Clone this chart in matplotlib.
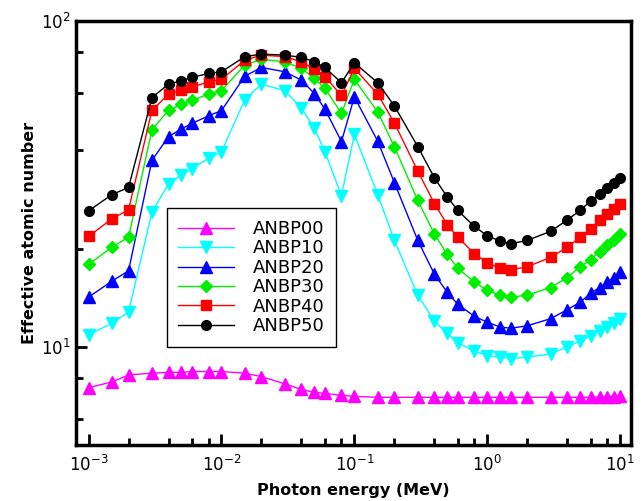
import matplotlib
matplotlib.use("Agg")
import matplotlib.pyplot as plt
from matplotlib.ticker import LogLocator, NullFormatter

plt.rcParams['font.family'] = ['DejaVu Sans']
plt.rcParams['mathtext.fontset'] = 'dejavusans'

# photon energies (MeV)
energy = [0.001, 0.0015, 0.002, 0.003, 0.004, 0.005, 0.006, 0.008, 0.01,
          0.015, 0.02, 0.03, 0.04, 0.05, 0.06, 0.08, 0.1, 0.15, 0.2, 0.3,
          0.4, 0.5, 0.6, 0.8, 1, 1.25, 1.5, 2, 3, 4, 5, 6, 7, 8, 9, 10]

# effective atomic number
anbp00 = [7.5, 7.8, 8.2, 8.3, 8.35, 8.35, 8.4, 8.4, 8.4,
          8.3, 8.1, 7.7, 7.4, 7.25, 7.2, 7.1, 7.05, 7.0, 7.0, 7.0,
          7.0, 7.0, 7.0, 7.0, 7.0, 7.0, 7.0, 7.0, 7.0, 7.0, 7.0, 7.0, 7.02, 7.03, 7.04, 7.05]
anbp10 = [10.9, 11.8, 12.8, 25.9, 31.6, 33.6, 35.2, 37.9, 39.6,
          57.3, 63.9, 61.0, 53.9, 46.9, 39.6, 29.1, 44.8, 29.3, 21.2, 14.4,
          12.0, 11.0, 10.3, 9.7, 9.4, 9.3, 9.2, 9.3, 9.5, 10.0, 10.4, 10.8, 11.2, 11.5, 11.8, 12.2]
anbp20 = [14.2, 15.9, 17.1, 37.3, 44.1, 46.6, 48.4, 51.1, 53.0,
          67.6, 71.9, 69.7, 65.7, 59.8, 53.6, 42.6, 58.4, 42.7, 31.9, 21.2,
          16.7, 14.7, 13.5, 12.4, 11.9, 11.5, 11.4, 11.6, 12.2, 13.0, 13.7, 14.6, 15.2, 15.8, 16.3, 16.9]
anbp30 = [17.9, 20.2, 21.7, 46.3, 53.1, 55.4, 57.0, 59.5, 61.0,
          73.1, 76.1, 74.8, 71.4, 66.6, 62.0, 52.0, 66.1, 52.5, 41.1, 28.1,
          22.2, 19.2, 17.4, 15.8, 14.9, 14.4, 14.2, 14.4, 15.2, 16.3, 17.6, 18.5, 19.6, 20.5, 21.3, 22.2]
anbp40 = [21.8, 24.7, 26.3, 53.1, 59.5, 61.2, 62.7, 64.8, 66.1,
          75.7, 78.4, 77.6, 74.8, 70.9, 67.3, 59.0, 71.4, 59.5, 48.6, 34.6,
          27.5, 23.7, 21.7, 19.3, 18.1, 17.4, 17.2, 17.6, 18.8, 20.2, 21.7, 22.9, 24.4, 25.6, 26.5, 27.5]
anbp50 = [26.1, 29.3, 30.8, 58.1, 63.9, 65.4, 67.0, 68.9, 69.7,
          77.6, 79.0, 78.4, 77.2, 74.8, 71.9, 64.5, 74.3, 64.5, 54.8, 41.1,
          33.0, 28.8, 26.2, 23.4, 21.9, 21.1, 20.7, 21.2, 22.6, 24.5, 26.2, 28.0, 29.4, 30.7, 31.9, 33.0]

labels = ['ANBP00', 'ANBP10', 'ANBP20', 'ANBP30', 'ANBP40', 'ANBP50']

fig = plt.figure(figsize=(6.44, 5.01), dpi=100)
ax = fig.add_axes([0.1175, 0.1118, 0.8618, 0.8469])

ax.plot(energy, anbp00, '-^', color='#ff00ff', lw=1, ms=8, label=labels[0])
ax.plot(energy, anbp10, '-v', color='#00ffff', lw=1, ms=8, label=labels[1])
ax.plot(energy, anbp20, '-^', color='#0000ff', lw=1, ms=8, label=labels[2])
ax.plot(energy, anbp30, '-D', color='#00ee00', lw=1, ms=6, label=labels[3])
ax.plot(energy, anbp40, '-s', color='#ff0000', lw=1, ms=6.5, label=labels[4])
ax.plot(energy, anbp50, '-o', color='black', lw=1, ms=7, label=labels[5])

ax.set_xscale('log')
ax.set_yscale('log')
ax.set_xlim(8e-4, 12)
ax.set_ylim(5, 100)

ax.xaxis.set_minor_locator(LogLocator(base=10, subs=[2, 4, 6, 8]))
ax.yaxis.set_minor_locator(LogLocator(base=10, subs=[2, 4, 6, 8]))
ax.xaxis.set_minor_formatter(NullFormatter())
ax.yaxis.set_minor_formatter(NullFormatter())

ax.tick_params(which='both', direction='in', width=2, labelsize=12, top=False, right=False)
ax.tick_params(which='major', length=8)
ax.tick_params(which='minor', length=5)
ax.tick_params(axis='x', pad=7)
for s in ax.spines.values():
    s.set_linewidth(2.5)

ax.set_xlabel('Photon energy (MeV)', fontsize=11.5, fontweight='bold', labelpad=6)
ax.set_ylabel('Effective atomic number', fontsize=11.5, fontweight='bold', labelpad=3)

leg = ax.legend(loc='lower left', bbox_to_anchor=(0.164, 0.231), borderaxespad=0,
                fontsize=13, fancybox=False, edgecolor='black', framealpha=1,
                handlelength=3.1, handletextpad=1.0, labelspacing=0.08, borderpad=0.65)
leg.get_frame().set_linewidth(1)

fig.savefig('out.png', dpi=100)
